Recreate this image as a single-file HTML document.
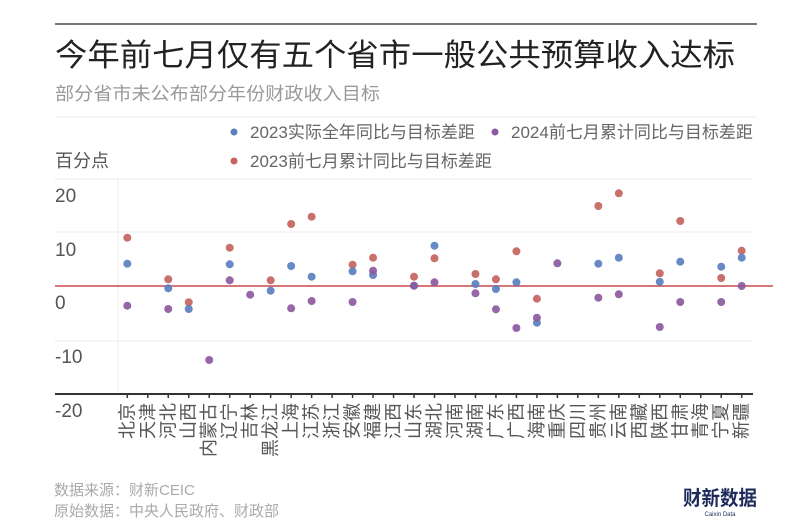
<!DOCTYPE html>
<html><head><meta charset="utf-8"><style>
html,body{margin:0;padding:0;background:#fff;width:800px;height:532px;overflow:hidden}
svg{display:block;font-family:"Liberation Sans","Noto Sans CJK SC",sans-serif}
</style></head><body>
<svg width="800" height="532" viewBox="0 0 800 532" xmlns="http://www.w3.org/2000/svg">
<line x1="55" y1="24" x2="757" y2="24" stroke="#777" stroke-width="2"/>
<text x="55" y="66" font-size="31" fill="#222" textLength="680" lengthAdjust="spacingAndGlyphs">今年前七月仅有五个省市一般公共预算收入达标</text>
<text x="55" y="100" font-size="18" fill="#999" textLength="325" lengthAdjust="spacingAndGlyphs">部分省市未公布部分年份财政收入目标</text>
<line x1="55" y1="117" x2="757" y2="117" stroke="#eee" stroke-width="1"/>
<circle cx="234" cy="132" r="3.5" fill="#5a7fbf"/>
<text x="250" y="138" font-size="17" fill="#666">2023实际全年同比与目标差距</text>
<circle cx="495" cy="132" r="3.5" fill="#8c5aa0"/>
<text x="511" y="138" font-size="17" fill="#666">2024前七月累计同比与目标差距</text>
<circle cx="234" cy="161" r="3.5" fill="#c46360"/>
<text x="250" y="167" font-size="17" fill="#666">2023前七月累计同比与目标差距</text>
<text x="55" y="167" font-size="18" fill="#555">百分点</text>
<g stroke="#ececec" stroke-width="1">
<line x1="54" y1="179" x2="753" y2="179"/>
<line x1="54" y1="232" x2="753" y2="232"/>
<line x1="54" y1="341" x2="753" y2="341"/>
<line x1="118" y1="179" x2="118" y2="394"/>
</g>
<g font-size="19" fill="#555">
<text x="55" y="202">20</text>
<text x="55" y="256">10</text>
<text x="55" y="309">0</text>
<text x="55" y="363">-10</text>
<text x="55" y="417">-20</text>
</g>
<line x1="55" y1="286" x2="773" y2="286" stroke="#c84848" stroke-width="1.5"/>
<line x1="55" y1="394" x2="753" y2="394" stroke="#333" stroke-width="2"/>
<g id="ticks" stroke="#333" stroke-width="1.5"></g>
<g id="labels" font-size="18" fill="#555"></g>
<g id="dots"></g>
<text x="54" y="495" font-size="15" fill="#aaa">数据来源：财新CEIC</text>
<text x="54" y="516" font-size="15" fill="#aaa">原始数据：中央人民政府、财政部</text>
<text x="720" y="505" font-size="20" font-weight="bold" fill="#1e2a5a" text-anchor="middle" textLength="74" lengthAdjust="spacingAndGlyphs">财新数据</text>
<text x="720" y="516" font-size="6" fill="#1e2a5a" text-anchor="middle">Caixin Data</text>
<script>
var names=["北京","天津","河北","山西","内蒙古","辽宁","吉林","黑龙江","上海","江苏","浙江","安徽","福建","江西","山东","湖北","河南","湖南","广东","广西","海南","重庆","四川","贵州","云南","西藏","陕西","甘肃","青海","宁夏","新疆"];
var R={0:237.7,2:279.3,3:302.3,5:247.7,7:280.3,8:224,9:216.7,11:264.7,12:257.7,14:276.7,15:258.3,17:274,18:279.3,19:251.3,20:298.7,23:206,24:193.3,26:273.3,27:221,29:278,30:250.7};
var B={0:263.7,2:288.3,3:309,5:264.3,7:290.7,8:266,9:276.7,11:271.3,12:275,14:285.7,15:245.7,17:284,18:289,19:282.3,20:322.7,23:263.7,24:257.7,26:281.7,27:261.7,29:266.7,30:257.7};
var P={0:305.7,2:309,4:360,5:280.3,6:294.7,8:308.3,9:301,11:302,12:270.7,14:285.7,15:282.3,17:293.3,18:309.3,19:328,20:317.7,21:263.3,23:297.7,24:294.3,26:327,27:302,29:302,30:286};
var ns="http://www.w3.org/2000/svg";
function el(t,a,p,txt){var e=document.createElementNS(ns,t);for(var k in a)e.setAttribute(k,a[k]);if(txt)e.textContent=txt;document.getElementById(p).appendChild(e);}
for(var i=0;i<31;i++){var x=127.3+20.48*i;
el("line",{x1:x,y1:394,x2:x,y2:398},"ticks");
el("text",{x:0,y:0,transform:"translate("+x+",403) rotate(-90)","text-anchor":"end","dominant-baseline":"central"},"labels",names[i]);
}
function dots(o,c){for(var k in o){el("circle",{cx:127.3+20.48*k,cy:o[k],r:4,fill:c,"fill-opacity":0.92},"dots");}}
dots(R,"#c46360");dots(B,"#5a7fbf");dots(P,"#8c5aa0");
</script>
</svg>
</body></html>
